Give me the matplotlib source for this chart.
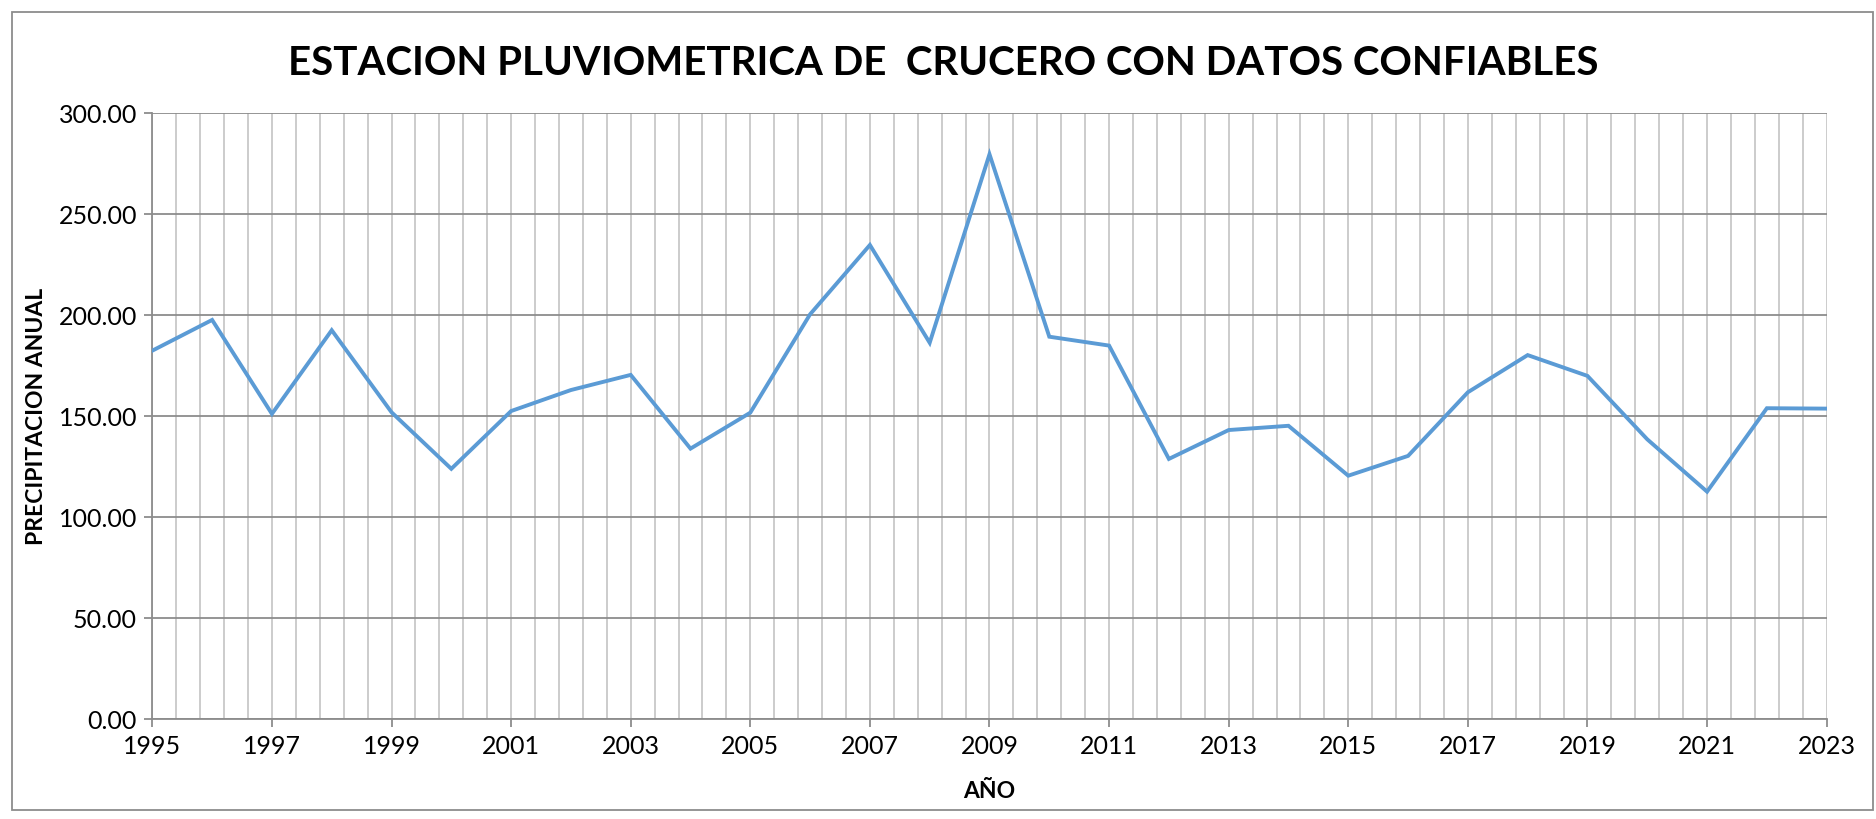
import numpy as np
import matplotlib
matplotlib.use("Agg")
import matplotlib.pyplot as plt
from matplotlib.patches import Rectangle
from matplotlib.ticker import MultipleLocator, FixedLocator, FormatStrFormatter

plt.rcParams['font.family'] = ['Lato', 'DejaVu Sans']

# precipitacion anual, estacion Crucero
years = list(range(1995, 2024))
precip = [182.5, 197.7, 151.2, 192.6, 152.0, 124.0, 152.6, 163.0, 170.5, 134.0,
          151.8, 200.5, 234.8, 186.4, 279.7, 189.4, 185.0, 128.9, 143.2, 145.3,
          120.6, 130.4, 161.9, 180.3, 170.0, 138.6, 112.7, 154.0, 153.8]
tick_years = list(range(1995, 2024, 2))

titulo = "ESTACION PLUVIOMETRICA DE  CRUCERO CON DATOS CONFIABLES"
ylab = "PRECIPITACION ANUAL"
xlab = "AÑO"

fig = plt.figure(figsize=(18.76, 8.19), dpi=100)
ax = fig.add_axes([0.0812, 0.1217, 0.8925, 0.74])

ax.plot(years, precip, color='#5B9BD5', lw=2.8, solid_joinstyle='miter', zorder=3)

ax.set_xlim(1995, 2023)
ax.set_ylim(0, 300)
ax.xaxis.set_major_locator(FixedLocator(tick_years))
# lineas verticales cada 0.4 anios, alineadas con 1995
ax.xaxis.set_minor_locator(MultipleLocator(0.4, offset=0.2))
ax.yaxis.set_major_locator(MultipleLocator(50))
ax.yaxis.set_major_formatter(FormatStrFormatter('%.2f'))

ax.grid(which='major', axis='y', color='#8c8c8c', lw=1.3)
ax.grid(which='both', axis='x', color='#c8c8c8', lw=1.3)
ax.set_axisbelow(True)

for s in ['top', 'right']:
    ax.spines[s].set_visible(False)
for s in ['left', 'bottom']:
    ax.spines[s].set_color('#8c8c8c')
    ax.spines[s].set_linewidth(1.3)

ax.tick_params(axis='both', which='major', direction='out', length=6, width=1.3,
               color='#8c8c8c', labelsize=18, labelcolor='black', pad=5)
ax.tick_params(axis='x', which='minor', length=0)

fig.text(0.5273, 0.033, xlab, ha='center', va='center',
         fontsize=16.5, fontweight='bold')
fig.text(0.0192, 0.4914, ylab, ha='center', va='center', rotation=90,
         fontsize=16.5, fontweight='bold')
fig.text(0.5027, 0.922, titulo, ha='center', va='center',
         fontsize=29, fontweight='bold')

# borde del grafico
fig.patches.append(Rectangle((0.0064, 0.0104), 0.9920, 0.9750, transform=fig.transFigure,
                             fill=False, edgecolor='#8c8c8c', lw=1.3))

fig.savefig('out.png', dpi=100)
